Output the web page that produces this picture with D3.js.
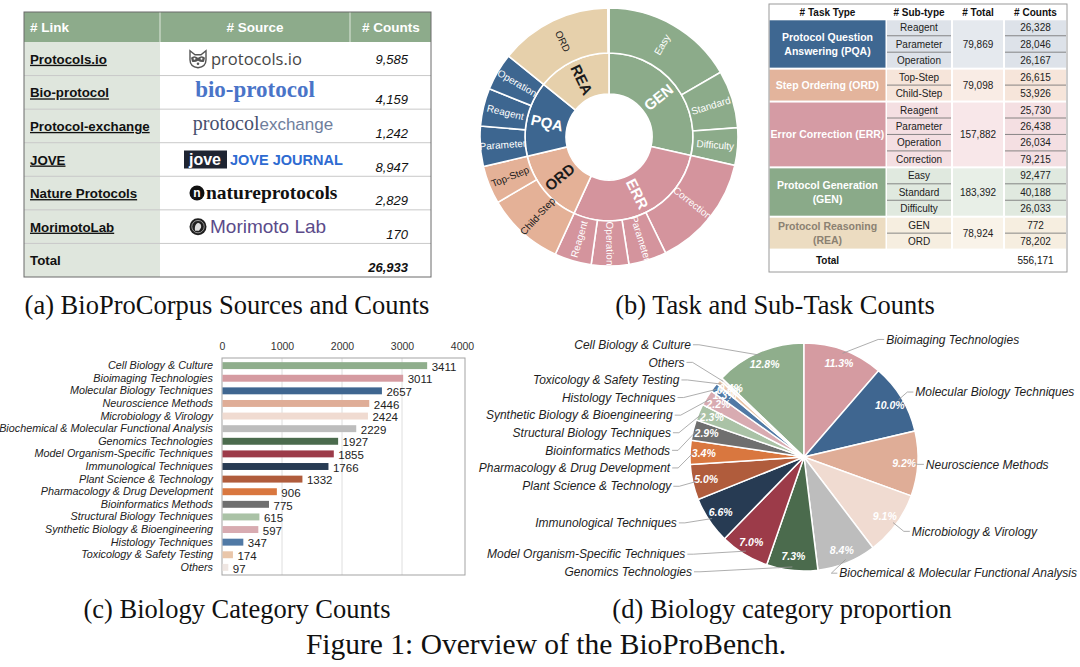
<!DOCTYPE html>
<html>
<head>
<meta charset="utf-8">
<script src="https://cdn.jsdelivr.net/npm/d3@7"></script>
<style>
  body { margin: 0; background: #fff; }
  svg { display: block; }
  text { font-family: "Liberation Sans", Arial, sans-serif; }
</style>
</head>
<body>
<svg id="figure" width="1080" height="667"></svg>
<script>
// (a) corpus sources
const sourceLinks = ['Protocols.io', 'Bio-protocol', 'Protocol-exchange', 'JOVE', 'Nature Protocols', 'MorimotoLab']
const sourceCounts = [9585, 4159, 1242, 8947, 2829, 170]
const sourceTotal = 26933

// (b) tasks and sub-tasks
const taskKeys = ['PQA', 'ORD', 'ERR', 'GEN', 'REA']
const taskNames = [['Protocol Question', 'Answering (PQA)'], ['Step Ordering (ORD)'], ['Error Correction (ERR)'], ['Protocol Generation', '(GEN)'], ['Protocol Reasoning', '(REA)']]
const taskTotals = [79869, 79098, 157882, 183392, 78924]
const subTypes = [['Reagent', 'Parameter', 'Operation'], ['Top-Step', 'Child-Step'], ['Reagent', 'Parameter', 'Operation', 'Correction'], ['Easy', 'Standard', 'Difficulty'], ['GEN', 'ORD']]
const subCounts = [[26328, 28046, 26167], [26615, 53926], [25730, 26438, 26034, 79215], [92477, 40188, 26033], [772, 78202]]
const grandTotal = 556171

// (c) / (d) biology categories
const categories = ['Cell Biology & Culture', 'Bioimaging Technologies', 'Molecular Biology Techniques', 'Neuroscience Methods', 'Microbiology & Virology', 'Biochemical & Molecular Functional Analysis', 'Genomics Technologies', 'Model Organism-Specific Techniques', 'Immunological Techniques', 'Plant Science & Technology', 'Pharmacology & Drug Development', 'Bioinformatics Methods', 'Structural Biology Techniques', 'Synthetic Biology & Bioengineering', 'Histology Techniques', 'Toxicology & Safety Testing', 'Others']
const categoryCounts = [3411, 3011, 2657, 2446, 2424, 2229, 1927, 1855, 1766, 1332, 906, 775, 615, 597, 347, 174, 97]
const countTicks = [0, 1000, 2000, 3000, 4000]

// Styles
const categoryColors = ['#8fae8c', '#d59ba1', '#3f6690', '#dfad97', '#f0dbd1', '#bdbdbd', '#4b6b4d', '#9c3b49', '#273b53', '#b05c3c', '#d9773f', '#6f6f6f', '#aac2a6', '#d8abb1', '#5079a5', '#e9c6aa', '#efe6e2']
const sunColors = ['#3d6690', '#e4b197', '#d4949d', '#8cab8a', '#e6d0ab']
const sunDarkText = ['ORD', 'REA']
const taskFill = ['#3e6791', '#e3b49c', '#d59ba4', '#8aaa89', '#ecdcc1']
const taskTextFill = ['#fff', '#fff', '#fff', '#fff', '#8b8172']
const subFill = ['#dde2e9', '#f6e5da', '#f4dfe2', '#e0e9df', '#f6eee0']
const totalFill = ['#e5e9ee', '#f9ece5', '#f8e7e9', '#e8efe7', '#f9f3e9']
const serif = '"Liberation Serif", "Times New Roman", serif'
const comma = d3.format(',')

const svg = d3.select('#figure')

// ---------- (a) sources table ----------
const tableA = svg.append('g')
const aCols = [24, 160, 350, 431]
const aTop = 12, aHead = 42, aBottom = 277
const aRow = d3.scaleBand().domain(d3.range(sourceLinks.length + 1)).range([aHead, aBottom])

tableA.append('rect')
    .attr('x', aCols[0]).attr('y', aTop)
    .attr('width', aCols[3] - aCols[0]).attr('height', aHead - aTop)
    .attr('fill', '#8dab8b')
tableA.append('rect')
    .attr('x', aCols[0]).attr('y', aHead)
    .attr('width', aCols[1] - aCols[0]).attr('height', aBottom - aHead)
    .attr('fill', '#dfe6dd')
tableA.selectAll('line.vsep')
    .data(aCols.slice(1, 3))
    .join('line')
    .attr('class', 'vsep')
    .attr('x1', d => d).attr('x2', d => d)
    .attr('y1', aTop).attr('y2', aHead)
    .attr('stroke', '#dfe8dc').attr('stroke-width', 1)
tableA.selectAll('line.hsep')
    .data(d3.range(1, sourceLinks.length + 1))
    .join('line')
    .attr('class', 'hsep')
    .attr('x1', aCols[0]).attr('x2', aCols[3])
    .attr('y1', d => aRow(d)).attr('y2', d => aRow(d))
    .attr('stroke', '#c9c9c9')
tableA.append('rect')
    .attr('x', aCols[0]).attr('y', aTop)
    .attr('width', aCols[3] - aCols[0]).attr('height', aBottom - aTop)
    .attr('fill', 'none').attr('stroke', '#6a6a6a')

const headA = [['# Link', 30, 'start'], ['# Source', 255, 'middle'], ['# Counts', 391, 'middle']]
tableA.selectAll('text.head')
    .data(headA)
    .join('text')
    .attr('class', 'head')
    .attr('x', d => d[1]).attr('y', 32)
    .attr('text-anchor', d => d[2])
    .style('font-size', '13.5px').style('font-weight', 'bold')
    .attr('fill', '#fff')
    .text(d => d[0])

const rowMid = i => aRow(i) + aRow.bandwidth() / 2
tableA.selectAll('text.link')
    .data(sourceLinks.concat(['Total']))
    .join('text')
    .attr('class', 'link')
    .attr('x', 30).attr('y', (d, i) => rowMid(i) + 5)
    .style('font-size', '13.3px').style('font-weight', 'bold')
    .style('text-decoration', (d, i) => i < sourceLinks.length ? 'underline' : 'none')
    .attr('fill', '#111')
    .text(d => d)
tableA.selectAll('text.count')
    .data(sourceCounts.concat([sourceTotal]))
    .join('text')
    .attr('class', 'count')
    .attr('x', 408).attr('y', (d, i) => rowMid(i) + (i === 0 ? 5 : 12))
    .attr('text-anchor', 'end')
    .style('font-size', '13px').style('font-style', 'italic')
    .style('font-weight', (d, i) => i === sourceLinks.length ? 'bold' : 'normal')
    .attr('fill', '#111')
    .text(d => comma(d))

// logos drawn as text + simple shapes
const logo = (i) => tableA.append('g').attr('transform', `translate(0,${rowMid(i)})`)
{
    const g = logo(0)
    const face = g.append('g').attr('transform', 'translate(198,0)')
    face.append('path').attr('d', 'M-8,-8 L-3,-4 L3,-4 L8,-8 L8,1 Q8,8 0,9 Q-8,8 -8,1 Z')
        .attr('fill', '#fff').attr('stroke', '#555').attr('stroke-width', 1.4)
    face.append('path').attr('d', 'M-7,-1 Q-4,-4 0,-1 Q4,-4 7,-1 L6,3 Q3,4 0,2 Q-3,4 -6,3 Z').attr('fill', '#555')
    face.selectAll('circle.eye').data([-3.5, 3.5]).join('circle').attr('cx', d => d).attr('cy', 0).attr('r', 1).attr('fill', '#fff')
    face.append('circle').attr('cx', 0).attr('cy', 5).attr('r', 1.3).attr('fill', '#555')
    g.append('text').attr('x', 211).attr('y', 6)
        .style('font-family', '"Open Sans", sans-serif').style('font-size', '16.5px')
        .attr('fill', '#474747').text('protocols.io')
}
{
    const g = logo(1)
    g.append('text').attr('x', 255).attr('y', 5).attr('text-anchor', 'middle')
        .style('font-family', serif).style('font-size', '23px').style('font-weight', 'bold')
        .attr('fill', '#4a74c8').text('bio-protocol')
}
{
    const g = logo(2)
    const t = g.append('text').attr('x', 263).attr('y', 4).attr('text-anchor', 'middle')
    t.append('tspan').style('font-family', serif).style('font-size', '20px').attr('fill', '#46506e').text('protocol')
    t.append('tspan').style('font-size', '17px').attr('fill', '#6f7e9c').text('exchange')
}
{
    const g = logo(3)
    g.append('rect').attr('x', 184).attr('y', -9).attr('width', 43).attr('height', 18).attr('fill', '#1e2431')
    g.append('text').attr('x', 189).attr('y', 5.5)
        .style('font-size', '16px').style('font-weight', 'bold').attr('fill', '#fff').text('jove')
    g.append('text').attr('x', 230).attr('y', 5.5)
        .style('font-size', '14.5px').style('font-weight', 'bold').attr('fill', '#2e6bd1').text('JOVE JOURNAL')
}
{
    const g = logo(4)
    g.append('circle').attr('cx', 197).attr('cy', 0).attr('r', 7.5).attr('fill', '#111')
    g.append('text').attr('x', 197).attr('y', 4).attr('text-anchor', 'middle')
        .style('font-size', '12px').style('font-weight', 'bold').attr('fill', '#fff').text('n')
    g.append('text').attr('x', 206).attr('y', 6)
        .style('font-family', serif).style('font-size', '19.5px').style('font-weight', 'bold')
        .attr('fill', '#111').text('natureprotocols')
}
{
    const g = logo(5)
    g.append('circle').attr('cx', 198).attr('cy', 0).attr('r', 8.5).attr('fill', '#1f1f1f')
    g.append('circle').attr('cx', 198).attr('cy', 0).attr('r', 6.2).attr('fill', 'none').attr('stroke', '#ddd').attr('stroke-width', 0.6)
    g.append('path').attr('d', 'M195,4 Q194,-2 198,-4 Q202,-3 201,1 L199,4 Z').attr('fill', '#ddd')
    g.append('text').attr('x', 210).attr('y', 6)
        .style('font-size', '19px').attr('fill', '#5b4b8a').text('Morimoto Lab')
}

// ---------- (b) sunburst ----------
const sunburst = svg.append('g').attr('transform', 'translate(609,137)')
const taskTree = {
    name: 'root',
    children: taskKeys.map((key, i) => ({
        name: key,
        index: i,
        children: subTypes[i].map((name, j) => ({ name, value: subCounts[i][j] }))
    }))
}
const root = d3.hierarchy(taskTree)
    .sum(d => d.value || 0)
    .sort((a, b) => b.value - a.value || d3.ascending(a.data.name, b.data.name))
d3.partition().size([2 * Math.PI, 3])(root)
const ringRadius = d3.scaleLinear().domain([1, 2, 3]).range([43, 84, 129])
const sunArc = d3.arc()
    .startAngle(d => d.x0).endAngle(d => d.x1)
    .innerRadius(d => ringRadius(d.y0)).outerRadius(d => ringRadius(d.y1))
const sunNodes = root.descendants().filter(d => d.depth > 0)
const topOf = d => d.depth === 1 ? d : d.parent

sunburst.selectAll('path')
    .data(sunNodes)
    .join('path')
    .attr('d', sunArc)
    .attr('fill', d => sunColors[topOf(d).data.index])
    .attr('stroke', '#fff').attr('stroke-width', 1.6)

sunburst.selectAll('text')
    .data(sunNodes.filter(d => d.x1 - d.x0 > 0.05))
    .join('text')
    .attr('transform', d => {
        const angle = (d.x0 + d.x1) / 2 * 180 / Math.PI
        const radius = (ringRadius(d.y0) + ringRadius(d.y1)) / 2
        return `rotate(${angle - 90}) translate(${radius},0) rotate(${angle < 180 ? 0 : 180})`
    })
    .attr('text-anchor', 'middle').attr('dy', '0.35em')
    .style('font-size', d => d.depth === 1 ? '15px' : '10px')
    .style('font-weight', d => d.depth === 1 ? 'bold' : 'normal')
    .attr('fill', d => sunDarkText.includes(topOf(d).data.name) ? '#1b1b1b' : '#fff')
    .text(d => d.data.name)

// ---------- (b) task table ----------
const tableB = svg.append('g')
const bCols = [769, 886, 952, 1004, 1067]
const bTop = 4, bHead = 19.3, bBottom = 272
const subRowCount = d3.sum(subTypes, s => s.length)
const bRow = d3.scaleLinear().domain([0, subRowCount]).range([bHead, 249.6])
const bColMid = i => (bCols[i] + bCols[i + 1]) / 2

tableB.selectAll('text.head')
    .data(['# Task Type', '# Sub-type', '# Total', '# Counts'])
    .join('text')
    .attr('class', 'head')
    .attr('x', (d, i) => bColMid(i)).attr('y', 15.5)
    .attr('text-anchor', 'middle')
    .style('font-size', '10px').style('font-weight', 'bold')
    .attr('fill', '#111')
    .text(d => d)

const groupStarts = d3.cumsum([0].concat(subTypes.map(s => s.length)))
taskKeys.forEach((key, i) => {
    const y0 = bRow(groupStarts[i]), y1 = bRow(groupStarts[i + 1])
    const g = tableB.append('g')
    g.append('rect')
        .attr('x', bCols[0] + 0.5).attr('y', y0 + 1)
        .attr('width', bCols[1] - bCols[0] - 1).attr('height', y1 - y0 - 2)
        .attr('fill', taskFill[i])
    g.append('rect')
        .attr('x', bCols[2] + 1).attr('y', y0 + 1)
        .attr('width', bCols[3] - bCols[2] - 2).attr('height', y1 - y0 - 2)
        .attr('fill', totalFill[i])
    subTypes[i].forEach((name, j) => {
        const r0 = bRow(groupStarts[i] + j), r1 = bRow(groupStarts[i] + j + 1)
        ;[1, 3].forEach(c => {
            g.append('rect')
                .attr('x', bCols[c] + 1).attr('y', r0 + (j === 0 ? 1 : 0))
                .attr('width', bCols[c + 1] - bCols[c] - 2)
                .attr('height', r1 - r0 - (j === 0 ? 1 : 0) - (j === subTypes[i].length - 1 ? 1 : 0))
                .attr('fill', subFill[i])
            if (j > 0) {
                g.append('line')
                    .attr('x1', bCols[c] + 1).attr('x2', bCols[c + 1] - 1)
                    .attr('y1', r0).attr('y2', r0)
                    .attr('stroke', '#6b6b6b').attr('stroke-width', 0.8)
            }
        })
        g.append('text')
            .attr('x', bColMid(1)).attr('y', (r0 + r1) / 2 + 3.8)
            .attr('text-anchor', 'middle').style('font-size', '10px').attr('fill', '#222')
            .text(name)
        g.append('text')
            .attr('x', bColMid(3)).attr('y', (r0 + r1) / 2 + 3.8)
            .attr('text-anchor', 'middle').style('font-size', '10px').attr('fill', '#222')
            .text(comma(subCounts[i][j]))
    })
    g.append('text')
        .attr('x', bColMid(2)).attr('y', (y0 + y1) / 2 + 3.8)
        .attr('text-anchor', 'middle').style('font-size', '10px').attr('fill', '#222')
        .text(comma(taskTotals[i]))
    const lines = taskNames[i]
    g.append('text')
        .attr('text-anchor', 'middle')
        .style('font-size', '10.5px').style('font-weight', 'bold')
        .attr('fill', taskTextFill[i])
        .selectAll('tspan')
        .data(lines)
        .join('tspan')
        .attr('x', bColMid(0))
        .attr('y', (d, k) => (y0 + y1) / 2 + 4 + (k - (lines.length - 1) / 2) * 13.4)
        .text(d => d)
})
tableB.append('text')
    .attr('x', bColMid(0)).attr('y', 264)
    .attr('text-anchor', 'middle').style('font-size', '10px').style('font-weight', 'bold')
    .attr('fill', '#111').text('Total')
tableB.append('text')
    .attr('x', bColMid(3)).attr('y', 264)
    .attr('text-anchor', 'middle').style('font-size', '10px')
    .attr('fill', '#111').text(comma(grandTotal))
tableB.append('rect')
    .attr('x', bCols[0]).attr('y', bTop)
    .attr('width', bCols[4] - bCols[0]).attr('height', bBottom - bTop)
    .attr('fill', 'none').attr('stroke', '#9a9a9a')

// ---------- (c) bar chart ----------
const bars = svg.append('g')
const barX = d3.scaleLinear().domain([0, 4000]).range([222, 462])
const barY = d3.scaleBand().domain(categories).range([358, 575]).paddingInner(0.45).paddingOuter(0.33)

bars.selectAll('line.grid')
    .data(countTicks.slice(1, -1))
    .join('line')
    .attr('class', 'grid')
    .attr('x1', d => barX(d)).attr('x2', d => barX(d))
    .attr('y1', 358).attr('y2', 575)
    .attr('stroke', '#dedede')
bars.append('rect')
    .attr('x', 222).attr('y', 358).attr('width', 243).attr('height', 217)
    .attr('fill', 'none').attr('stroke', '#a3a3a3')

bars.append('g')
    .attr('transform', 'translate(0,358)')
    .call(d3.axisTop(barX).tickValues(countTicks).tickSize(0).tickPadding(8).tickFormat(d3.format('d')))
    .call(g => g.select('.domain').remove())
    .selectAll('text')
    .style('font-size', '10.5px').attr('fill', '#333')

bars.append('g')
    .attr('transform', 'translate(222,0)')
    .call(d3.axisLeft(barY).tickSize(0).tickPadding(9))
    .call(g => g.select('.domain').remove())
    .selectAll('text')
    .style('font-size', '10.8px').style('font-style', 'italic').attr('fill', '#222')

bars.selectAll('rect.bar')
    .data(categories)
    .join('rect')
    .attr('class', 'bar')
    .attr('x', barX(0) + 0.5).attr('y', d => barY(d))
    .attr('width', (d, i) => barX(categoryCounts[i]) - barX(0))
    .attr('height', barY.bandwidth())
    .attr('fill', (d, i) => categoryColors[i])
bars.selectAll('text.value')
    .data(categories)
    .join('text')
    .attr('class', 'value')
    .attr('x', (d, i) => barX(categoryCounts[i]) + 5)
    .attr('y', d => barY(d) + barY.bandwidth() / 2)
    .attr('dy', '0.45em')
    .style('font-size', '11.5px').attr('fill', '#222')
    .text((d, i) => categoryCounts[i])

// ---------- (d) pie ----------
const pieR = 114
const pieG = svg.append('g').attr('transform', 'translate(804,457)')
const pieTotal = d3.sum(categoryCounts)
const firstSweep = 2 * Math.PI * categoryCounts[0] / pieTotal
const pieArcs = d3.pie().sort(null).startAngle(-firstSweep).endAngle(2 * Math.PI - firstSweep)(categoryCounts)
const midAngle = d => (d.startAngle + d.endAngle) / 2
const polar = (a, r) => [Math.sin(a) * r, -Math.cos(a) * r]

pieG.selectAll('path')
    .data(pieArcs)
    .join('path')
    .attr('d', d3.arc().innerRadius(0).outerRadius(pieR))
    .attr('fill', d => categoryColors[d.index])
    .attr('stroke', '#fff').attr('stroke-width', 1.5)

pieG.selectAll('text.pct')
    .data(pieArcs)
    .join('text')
    .attr('class', 'pct')
    .attr('transform', d => `translate(${polar(midAngle(d), pieR * 0.88)})`)
    .attr('text-anchor', 'middle').attr('dy', '0.35em')
    .style('font-size', '10.5px').style('font-weight', 'bold').style('font-style', 'italic')
    .attr('fill', '#fff')
    .text(d => d3.format('.1%')(d.value / pieTotal))

// outside labels with leader lines, spread apart on each side
const labelItems = pieArcs.map(d => {
    const a = midAngle(d)
    const right = Math.sin(a) > 0
    return { d, a, right, y: right ? -Math.cos(a) * pieR * 1.1 : -Math.cos(a) * pieR * 0.96 + 5 }
})
const spread = (items, gap) => {
    items.sort((p, q) => p.y - q.y)
    for (let k = 0; k < 300; k++) {
        let moved = false
        for (let i = 1; i < items.length; i++) {
            const diff = items[i].y - items[i - 1].y
            if (diff < gap - 0.01) {
                const shift = (gap - diff) / 2
                items[i].y += shift
                items[i - 1].y -= shift
                moved = true
            }
        }
        if (!moved) break
    }
}
spread(labelItems.filter(l => l.right), 17.6)
spread(labelItems.filter(l => !l.right), 17.6)

labelItems.forEach(l => {
    const label = pieG.append('text')
        .attr('y', l.y + 4.2)
        .attr('text-anchor', l.right ? 'start' : 'end')
        .style('font-size', '12px').style('font-style', 'italic')
        .attr('fill', '#1e1e1e')
        .text(categories[l.d.index])
    const width = label.node().getComputedTextLength()
    let x
    if (l.right) {
        x = (pieR + 8) * Math.sqrt(Math.max(0, 1 - (l.y / (pieR + 45)) ** 2))
        x = Math.min(x, 1077 - 804 - width)
    } else {
        x = -(pieR + 20) * Math.sqrt(Math.max(0, 1 - (l.y / (pieR + 95)) ** 2))
    }
    label.attr('x', x)
    const dir = l.right ? -1 : 1
    const points = [[x + dir * 2, l.y], [x + dir * 8, l.y], polar(l.a, pieR * 0.97)]
    pieG.append('polyline')
        .attr('points', points.map(p => p.join(',')).join(' '))
        .attr('fill', 'none').attr('stroke', '#999').attr('stroke-width', 0.8)
})

// ---------- captions ----------
const captions = [
    ['(a) BioProCorpus Sources and Counts', 227, 314, 26.5],
    ['(b) Task and Sub-Task Counts', 775, 314, 26.5],
    ['(c) Biology Category Counts', 237, 618, 26.5],
    ['(d) Biology category proportion', 782, 618, 26.5],
    ['Figure 1: Overview of the BioProBench.', 546, 654, 29.5]
]
svg.selectAll('text.caption')
    .data(captions)
    .join('text')
    .attr('class', 'caption')
    .attr('x', d => d[1]).attr('y', d => d[2])
    .attr('text-anchor', 'middle')
    .style('font-family', serif).style('font-size', d => d[3] + 'px')
    .attr('fill', '#111')
    .text(d => d[0])
</script>
</body>
</html>
